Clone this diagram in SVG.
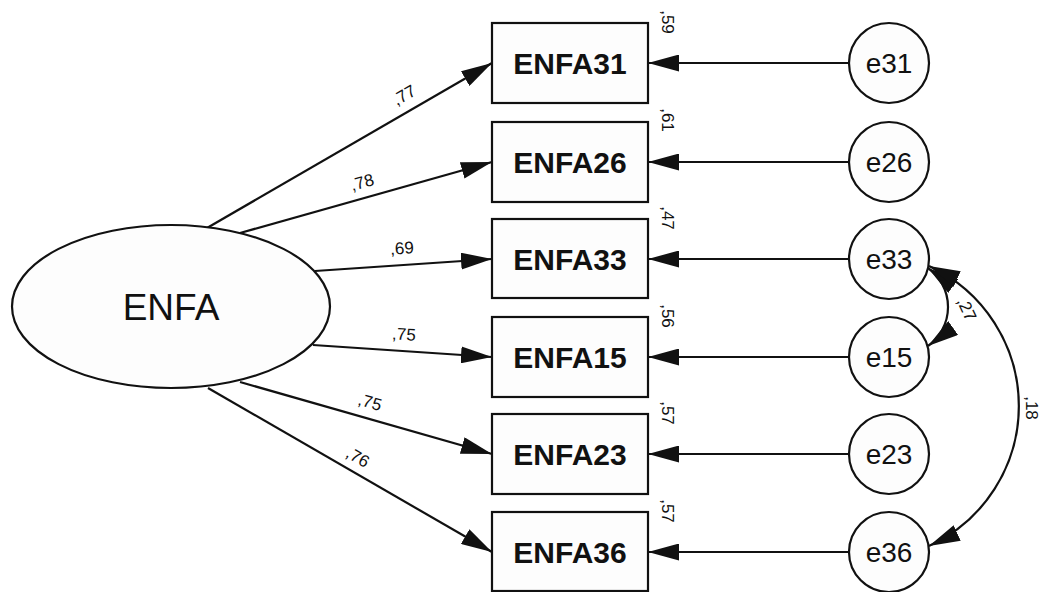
<svg xmlns="http://www.w3.org/2000/svg" width="1040" height="592" viewBox="0 0 1040 592">
<style>
.shape{fill:#fdfdfd;stroke:#111;stroke-width:2.2}
.conn{fill:none;stroke:#111;stroke-width:2.2}
.lat{font-family:"Liberation Sans",Arial,sans-serif;font-size:37px;fill:#111;text-anchor:middle}
.obs{font-family:"Liberation Sans",Arial,sans-serif;font-size:30px;font-weight:bold;fill:#111;text-anchor:middle}
.err{font-family:"Liberation Sans",Arial,sans-serif;font-size:28px;fill:#111;text-anchor:middle}
.lbl{font-family:"Liberation Sans",Arial,sans-serif;font-size:17px;fill:#111;text-anchor:middle}
</style>
<defs>
<marker id="ah" markerUnits="userSpaceOnUse" markerWidth="31" markerHeight="17" refX="31" refY="8.5" orient="auto-start-reverse" viewBox="0 0 31 17">
<path d="M0,0 L31,8.5 L0,17 z" fill="#111"/>
</marker>
</defs>
<g id="connectors">
<line class="conn" x1="207" y1="228" x2="492" y2="63" marker-end="url(#ah)"/>
<line class="conn" x1="240" y1="233" x2="492" y2="162" marker-end="url(#ah)"/>
<line class="conn" x1="315" y1="271" x2="492" y2="259" marker-end="url(#ah)"/>
<line class="conn" x1="313" y1="345" x2="492" y2="357" marker-end="url(#ah)"/>
<line class="conn" x1="240" y1="382" x2="492" y2="454" marker-end="url(#ah)"/>
<line class="conn" x1="208" y1="388" x2="492" y2="552" marker-end="url(#ah)"/>
<line class="conn" x1="849" y1="63" x2="648" y2="63" marker-end="url(#ah)"/>
<line class="conn" x1="849" y1="162" x2="648" y2="162" marker-end="url(#ah)"/>
<line class="conn" x1="849" y1="259" x2="648" y2="259" marker-end="url(#ah)"/>
<line class="conn" x1="849" y1="357" x2="648" y2="357" marker-end="url(#ah)"/>
<line class="conn" x1="849" y1="454" x2="648" y2="454" marker-end="url(#ah)"/>
<line class="conn" x1="849" y1="552" x2="648" y2="552" marker-end="url(#ah)"/>
<path class="conn" d="M928,268 A48,48 0 0 1 928,346" marker-start="url(#ah)" marker-end="url(#ah)"/>
<path class="conn" d="M929,266 A154,154 0 0 1 929,546" marker-start="url(#ah)" marker-end="url(#ah)"/>
<text class="lbl" transform="translate(404,95) rotate(-30)" y="6">,77</text>
<text class="lbl" transform="translate(362,182) rotate(-15.7)" y="6">,78</text>
<text class="lbl" transform="translate(402,248) rotate(-3.9)" y="6">,69</text>
<text class="lbl" transform="translate(404,334) rotate(3.8)" y="6">,75</text>
<text class="lbl" transform="translate(370,402) rotate(15.9)" y="6">,75</text>
<text class="lbl" transform="translate(358,457) rotate(30)" y="6">,76</text>
<text class="lbl" transform="translate(967,309) rotate(65)" y="6">,27</text>
<text class="lbl" transform="translate(1032,408) rotate(90)" y="6">,18</text>
</g>
<g id="ENFA">
<ellipse class="shape" cx="171" cy="306.5" rx="159" ry="81.5"/>
<text class="lat" x="171" y="320">ENFA</text>
</g>
<g id="ENFA31">
<rect class="shape" x="492" y="23" width="156" height="80"/>
<text class="obs" x="570" y="74">ENFA31</text>
<text class="lbl" transform="translate(668,22) rotate(90)" y="6">,59</text>
</g>
<g id="ENFA26">
<rect class="shape" x="492" y="122" width="156" height="80"/>
<text class="obs" x="570" y="173">ENFA26</text>
<text class="lbl" transform="translate(668,120) rotate(90)" y="6">,61</text>
</g>
<g id="ENFA33">
<rect class="shape" x="492" y="219" width="156" height="79"/>
<text class="obs" x="570" y="270">ENFA33</text>
<text class="lbl" transform="translate(668,218) rotate(90)" y="6">,47</text>
</g>
<g id="ENFA15">
<rect class="shape" x="492" y="317" width="156" height="80"/>
<text class="obs" x="570" y="368">ENFA15</text>
<text class="lbl" transform="translate(668,316) rotate(90)" y="6">,56</text>
</g>
<g id="ENFA23">
<rect class="shape" x="492" y="414" width="156" height="80"/>
<text class="obs" x="570" y="465">ENFA23</text>
<text class="lbl" transform="translate(668,413) rotate(90)" y="6">,57</text>
</g>
<g id="ENFA36">
<rect class="shape" x="492" y="512" width="156" height="79"/>
<text class="obs" x="570" y="563">ENFA36</text>
<text class="lbl" transform="translate(668,511) rotate(90)" y="6">,57</text>
</g>
<g id="e31"><circle class="shape" cx="889" cy="63" r="40"/><text class="err" x="889" y="73">e31</text></g>
<g id="e26"><circle class="shape" cx="889" cy="162" r="40"/><text class="err" x="889" y="172">e26</text></g>
<g id="e33"><circle class="shape" cx="889" cy="259" r="40"/><text class="err" x="889" y="269">e33</text></g>
<g id="e15"><circle class="shape" cx="889" cy="357" r="40"/><text class="err" x="889" y="367">e15</text></g>
<g id="e23"><circle class="shape" cx="889" cy="454" r="40"/><text class="err" x="889" y="464">e23</text></g>
<g id="e36"><circle class="shape" cx="889" cy="552" r="40"/><text class="err" x="889" y="562">e36</text></g>
</svg>
